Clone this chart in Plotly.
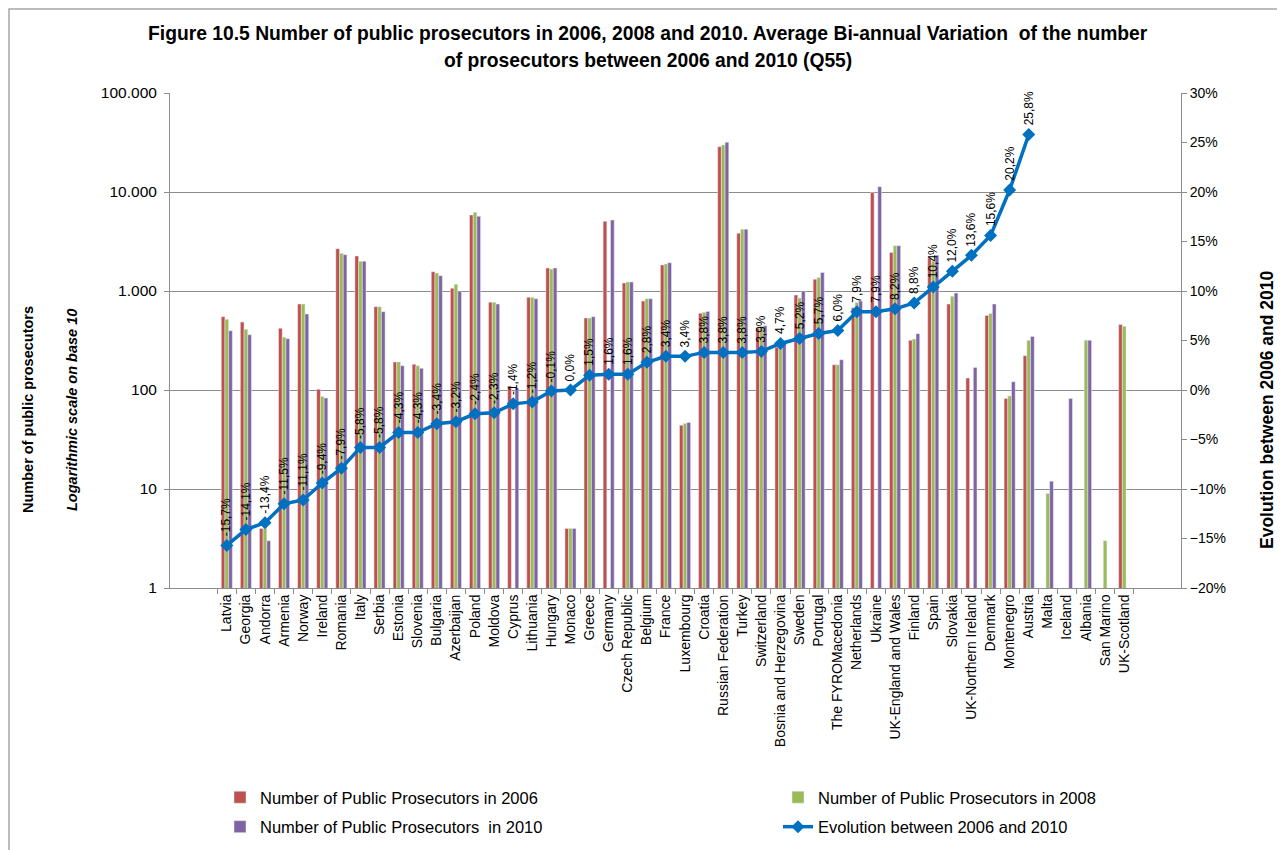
import plotly.graph_objects as go

countries = [
    "Latvia", "Georgia", "Andorra", "Armenia", "Norway", "Ireland", "Romania", "Italy",
    "Serbia", "Estonia", "Slovenia", "Bulgaria", "Azerbaijan", "Poland", "Moldova", "Cyprus",
    "Lithuania", "Hungary", "Monaco", "Greece", "Germany", "Czech Republic", "Belgium", "France",
    "Luxembourg", "Croatia", "Russian Federation", "Turkey", "Switzerland",
    "Bosnia and Herzegovina", "Sweden", "Portugal", "The FYROMacedonia", "Netherlands",
    "Ukraine", "UK-England and Wales", "Finland", "Spain", "Slovakia", "UK-Northern Ireland",
    "Denmark", "Montenegro", "Austria", "Malta", "Iceland", "Albania", "San Marino", "UK-Scotland",
]

pros_2006 = [
    550, 486, 4, 420, 739, 102, 2673, 2258, 695, 192, 182, 1566, 1065, 5860, 769, 110,
    863, 1707, 4, 534, 5060, 1205, 792, 1833, 44, 597, 28700, 3830, 420, 271, 911, 1315,
    180, 676, 9860, 2450, 318, 2150, 737, 132, 566, 82, 222, None, None, None, None, 458,
]
pros_2008 = [
    518, 410, 4, 341, 739, 86, 2403, 1996, 695, 192, 176, 1520, 1168, 6240, 769, None,
    863, 1667, 4, 534, None, 1233, 836, 1875, 46, 610, 29900, 4200, 435, 305, 850, 1365,
    180, 767, None, 2870, 327, 2000, 884, None, 593, 87, 318, 9, None, 318, 3, 441,
]
pros_2010 = [
    397, 362, 3, 330, 586, 83, 2328, 2000, 618, 176, 166, 1428, 1000, 5680, 739, 105,
    836, 1707, 4, 550, 5210, 1233, 836, 1932, 47, 620, 31800, 4200, 445, 290, 1000, 1540,
    202, 792, 11320, 2870, 371, 2300, 954, 169, 737, 121, 348, 12, 82, 318, None, None,
]
evolution = [
    -15.7, -14.1, -13.4, -11.5, -11.1, -9.4, -7.9, -5.8, -5.8, -4.3, -4.3, -3.4, -3.2, -2.4,
    -2.3, -1.4, -1.2, -0.1, 0.0, 1.5, 1.6, 1.6, 2.8, 3.4, 3.4, 3.8, 3.8, 3.8, 3.9, 4.7, 5.2,
    5.7, 6.0, 7.9, 7.9, 8.2, 8.8, 10.4, 12.0, 13.6, 15.6, 20.2, 25.8,
    None, None, None, None, None,
]

log_ticks = [1, 10, 100, 1000, 10000, 100000]
log_tick_text = ["1", "10", "100", "1.000", "10.000", "100.000"]

title_lines = [
    "Figure 10.5 Number of public prosecutors in 2006, 2008 and 2010. Average Bi-annual Variation  of the number",
    "of prosecutors between 2006 and 2010 (Q55)",
]

FONT = "Liberation Sans"
GRID = "#8c8c8c"

# plot area in page pixels (the page adds an 8px body margin)
PX0, PW, PY1, PH = 170, 1011, 588, 495


def px(x):
    return (x - PX0) / PW


def py(y):
    return (PY1 - y) / PH


fig = go.Figure()

fig.add_trace(go.Bar(name="Number of Public Prosecutors in 2006", x=countries, y=pros_2006,
                     marker_color="#C0504D", legend="legend", legendgroup="a"))
fig.add_trace(go.Bar(name="Number of Public Prosecutors in 2008", x=countries, y=pros_2008,
                     marker_color="#9BBB59", legend="legend2", legendgroup="b"))
fig.add_trace(go.Bar(name="Number of Public Prosecutors  in 2010", x=countries, y=pros_2010,
                     marker_color="#8064A2", legend="legend", legendgroup="c"))
fig.add_trace(go.Scatter(
    name="Evolution between 2006 and 2010", x=countries, y=evolution, yaxis="y2",
    mode="lines+markers", line=dict(color="#0070C0", width=3.5),
    marker=dict(symbol="diamond", size=10, color="#0070C0"),
    legend="legend2", legendgroup="d",
))

# data labels for the evolution line, rotated like in the original
for c, v in zip(countries, evolution):
    if v is None:
        continue
    fig.add_annotation(
        x=c, y=v, yref="y2", text=f"{v:.1f}%".replace(".", ","), showarrow=False,
        textangle=-90, yanchor="bottom", yshift=7, font=dict(family=FONT, size=12, color="black"),
    )

# title, two lines
for i, line in enumerate(title_lines):
    fig.add_annotation(x=px(648), y=py(33 + 27 * i), xref="paper", yref="paper",
                       xanchor="center", yanchor="middle", text=f"<b>{line}</b>", showarrow=False,
                       font=dict(family=FONT, size=19.3, color="black"))

# axis titles
axis_titles = [
    (28, "<b>Number of public prosecutors</b>", 14.5),
    (72, "<b><i>Logarithmic scale on base 10</i></b>", 14.5),
    (1267, "<b>Evolution between 2006 and 2010</b>", 17.5),
]
for x_pos, text, size in axis_titles:
    fig.add_annotation(x=px(x_pos), y=py(410), xref="paper", yref="paper", text=text,
                       xanchor="center", yanchor="middle", textangle=-90, showarrow=False,
                       font=dict(family=FONT, size=size, color="black"))

# outer chart frame
fig.add_shape(type="rect", xref="paper", yref="paper",
              x0=px(9), x1=px(1291), y0=py(856), y1=py(9),
              line=dict(color="#a6a6a6", width=1.5))

fig.update_layout(
    width=1285, height=850,
    margin=dict(l=162, r=112, t=85, b=270, autoexpand=False),
    paper_bgcolor="white", plot_bgcolor="white",
    font=dict(family=FONT, size=13, color="black"),
    barmode="group", bargap=0.42, bargroupgap=0,
    xaxis=dict(
        tickangle=-90, tickson="boundaries", ticks="outside", ticklen=5, tickcolor=GRID,
        showline=True, linecolor=GRID, linewidth=1, showgrid=False, automargin=False,
        tickfont=dict(family=FONT, size=14),
    ),
    yaxis=dict(
        type="log", range=[0, 5], tickvals=log_ticks, ticktext=log_tick_text,
        showgrid=True, gridcolor=GRID, gridwidth=1, showline=True, linecolor=GRID,
        ticks="outside", ticklen=5, tickcolor=GRID, tickfont=dict(family=FONT, size=15.5),
        ticklabelstandoff=4, zeroline=False, automargin=False,
    ),
    yaxis2=dict(
        overlaying="y", side="right", range=[-20, 30], dtick=5, ticksuffix="%",
        showgrid=False, showline=True, linecolor=GRID, ticks="outside", ticklen=5,
        tickcolor=GRID, zeroline=False, tickfont=dict(family=FONT, size=14), automargin=False,
    ),
    legend=dict(
        x=px(220), xanchor="left", y=py(780), yanchor="top",
        traceorder="grouped", tracegroupgap=5, font=dict(family=FONT, size=16.5), itemwidth=30,
    ),
    legend2=dict(
        x=px(778), xanchor="left", y=py(780), yanchor="top",
        traceorder="grouped", tracegroupgap=5, font=dict(family=FONT, size=16.5), itemwidth=30,
    ),
    showlegend=True,
)

fig.write_html("out.html")
